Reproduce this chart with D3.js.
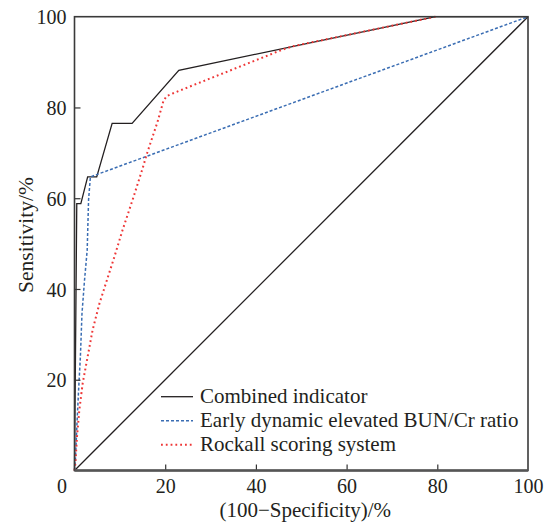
<!DOCTYPE html>
<html>
<head>
<meta charset="utf-8">
<script src="https://cdn.jsdelivr.net/npm/d3@7"></script>
<style>
  body { margin: 0; background: #fff; }
  svg text { font-family: "Liberation Serif", "DejaVu Serif", serif; fill: #231f20; }
</style>
</head>
<body>
<div id="chart"></div>
<script>
// ROC curves, values (x = 100 - specificity, y = sensitivity)
const combinedX = [0, 0.5, 1.4, 2.9, 4.9, 8.3, 12.7, 23.0, 79.6, 100];
const combinedY = [0, 58.8, 58.8, 64.7, 64.7, 76.5, 76.5, 88.2, 100, 100];

const bunCrX = [0, 0.2, 0.55, 0.9, 1.3, 1.65, 2.2, 2.8, 3.1, 3.5, 100];
const bunCrY = [0, 2.3, 10.4, 17.7, 25.1, 34.6, 41.8, 48.6, 59.6, 64.7, 100];

const rockallX = [0, 0.2, 0.55, 1.06, 1.8, 2.9, 4.0, 5.5, 7.1, 8.8, 10.6, 12.8, 14.9, 16.0, 18.3, 19.6, 20.3, 22.9, 46.0, 48.2, 79.6];
const rockallY = [0, 1.6, 7.4, 13.3, 19.2, 25.1, 31.0, 36.8, 41.8, 47.1, 53.0, 59.6, 66.2, 69.9, 76.8, 81.4, 82.5, 83.6, 92.8, 93.5, 100];

const referenceX = [0, 100];
const referenceY = [0, 100];

const xTicks = [0, 20, 40, 60, 80, 100];
const yTicks = [20, 40, 60, 80, 100];

const seriesNames = [
  "Combined indicator",
  "Early dynamic elevated BUN/Cr ratio",
  "Rockall scoring system",
];

const width = 544;
const height = 522;
const margin = { top: 16.7, right: 16, bottom: 51.5, left: 74.5 };
const serif = '"Liberation Serif", "DejaVu Serif", serif';

const svg = d3
  .select("#chart")
  .append("svg")
  .attr("width", width)
  .attr("height", height);

const x = d3
  .scaleLinear()
  .domain([0, 100])
  .range([margin.left, width - margin.right]);
const y = d3
  .scaleLinear()
  .domain([0, 100])
  .range([height - margin.bottom, margin.top]);

const line = d3
  .line()
  .x((d) => x(d[0]))
  .y((d) => y(d[1]));

const zip = (a, b) => a.map((v, i) => [v, b[i]]);

const series = [
  { name: seriesNames[0], pts: zip(combinedX, combinedY), color: "#231f20", dash: null, width: 1.3 },
  { name: seriesNames[1], pts: zip(bunCrX, bunCrY), color: "#3a6db3", dash: "3,2", width: 1.5 },
  { name: seriesNames[2], pts: zip(rockallX, rockallY), color: "#ee3636", dash: "1.8,3", width: 2 },
];

// diagonal reference
svg
  .append("path")
  .datum(zip(referenceX, referenceY))
  .attr("d", line)
  .attr("fill", "none")
  .attr("stroke", "#231f20")
  .attr("stroke-width", 1.3);

// curves
svg
  .selectAll(".roc")
  .data(series)
  .join("path")
  .attr("class", "roc")
  .attr("d", (d) => line(d.pts))
  .attr("fill", "none")
  .attr("stroke", (d) => d.color)
  .attr("stroke-width", (d) => d.width)
  .attr("stroke-dasharray", (d) => d.dash);

// axes, ticks pointing inward
const xAxis = svg
  .append("g")
  .attr("transform", `translate(0,${y(0)})`)
  .call(
    d3.axisBottom(x).tickValues(xTicks).tickSizeInner(-6).tickSizeOuter(0).tickPadding(8)
  );
const yAxis = svg
  .append("g")
  .attr("transform", `translate(${x(0)},0)`)
  .call(
    d3.axisLeft(y).tickValues(yTicks).tickSizeInner(-6).tickSizeOuter(0).tickPadding(8)
  );

[xAxis, yAxis].forEach((g) => {
  g.attr("font-family", serif).attr("font-size", 20);
  g.select(".domain").remove();
  g.selectAll(".tick line").attr("stroke", "#333").attr("stroke-width", 1.2);
  g.selectAll(".tick text").attr("fill", "#231f20");
});
// origin label sits left of the corner
xAxis
  .selectAll(".tick text")
  .filter((d) => d === 0)
  .attr("x", -13);
xAxis.selectAll(".tick line").filter((d) => d === 0 || d === 100).remove();
yAxis.selectAll(".tick line").filter((d) => d === 100).remove();
yAxis.selectAll(".tick text").attr("dy", "0.36em");

// frame
svg
  .append("rect")
  .attr("x", x(0))
  .attr("y", y(100))
  .attr("width", x(100) - x(0))
  .attr("height", y(0) - y(100))
  .attr("fill", "none")
  .attr("stroke", "#3a3a3a")
  .attr("stroke-width", 1.6);
svg
  .append("line")
  .attr("x1", x(0))
  .attr("x2", x(100))
  .attr("y1", y(0))
  .attr("y2", y(0))
  .attr("stroke", "#555")
  .attr("stroke-width", 2.4);

// axis titles
svg
  .append("text")
  .attr("x", (x(0) + x(100)) / 2 + 4)
  .attr("y", 517)
  .attr("text-anchor", "middle")
  .style("font-size", "21px")
  .text("(100\u2212Specificity)/%");

svg
  .append("text")
  .attr("transform", `translate(33,${235}) rotate(-90)`)
  .attr("text-anchor", "middle")
  .style("font-size", "21.5px")
  .text("Sensitivity/%");

// legend
const legend = svg
  .append("g")
  .selectAll("g")
  .data(series)
  .join("g")
  .attr("transform", (d, i) => `translate(161,${396.7 + i * 24})`);

legend
  .append("line")
  .attr("x1", 0)
  .attr("x2", 32)
  .attr("stroke", (d) => d.color)
  .attr("stroke-width", (d) => d.width)
  .attr("stroke-dasharray", (d) => d.dash);

legend
  .append("text")
  .attr("x", 39)
  .attr("y", 6)
  .style("font-size", "21px")
  .text((d) => d.name);
</script>
</body>
</html>
